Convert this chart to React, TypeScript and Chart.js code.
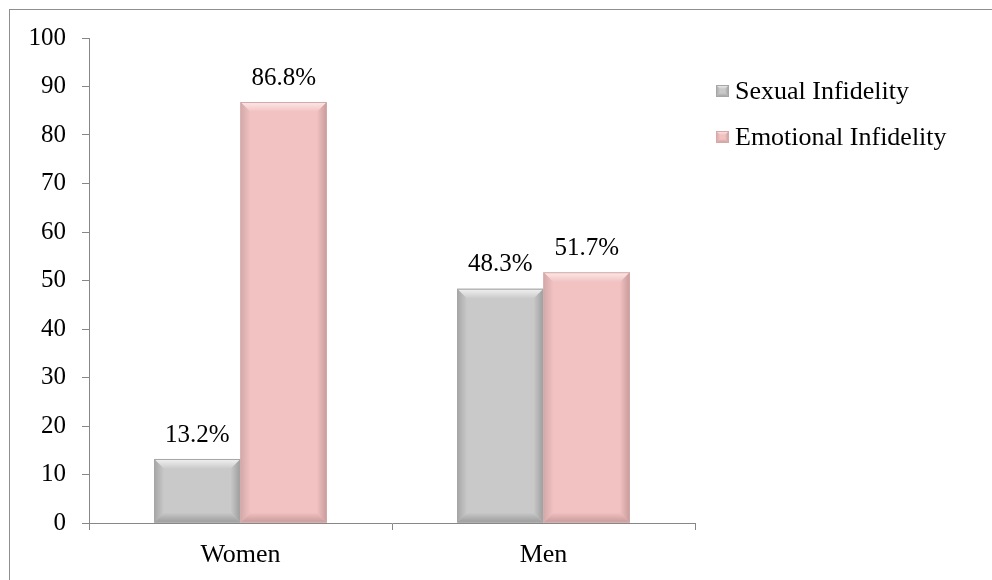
import React, { useEffect, useRef } from "react";
import { Chart, registerables } from "chart.js";

Chart.register(...registerables);

const categories = ["Women", "Men"];
const seriesNames = ["Sexual Infidelity", "Emotional Infidelity"];
const sexualValues = [13.2, 48.3];
const emotionalValues = [86.8, 51.7];
const yMin = 0;
const yMax = 100;
const yStep = 10;

const FONT = '"Liberation Serif", "Times New Roman", serif';
const FONT_SIZE = 25;
const FONT_SIZE_LARGE = 26;
const AXIS_COLOR = "#878787";

const palettes = [
  { base: "#c9c9c9", light: "#f2f2f2", dark: "#9c9c9c", edge: "#a6a6a6" },
  { base: "#f2c1c1", light: "#fde9e9", dark: "#c79a9a", edge: "#d3a9a9" },
];

const framePlugin = {
  id: "frame",
  beforeDraw(chart: any) {
    const ctx = chart.ctx;
    ctx.save();
    ctx.fillStyle = "#ffffff";
    ctx.fillRect(0, 0, chart.width, chart.height);
    ctx.strokeStyle = "#8f8f8f";
    ctx.lineWidth = 1;
    ctx.strokeRect(9.5, 9.5, chart.width + 10, chart.height + 10);
    ctx.restore();
  },
};

function drawBevelBox(ctx: any, left: number, top: number, right: number, bottom: number, pal: any, b: number) {
  const w = right - left;
  const h = bottom - top;
  const bb = Math.min(b, w / 2, h / 2);
  ctx.fillStyle = pal.base;
  ctx.fillRect(left, top, w, h);
  let g = ctx.createLinearGradient(0, top, 0, top + bb);
  g.addColorStop(0, pal.light);
  g.addColorStop(1, pal.base);
  ctx.fillStyle = g;
  ctx.beginPath();
  ctx.moveTo(left, top);
  ctx.lineTo(right, top);
  ctx.lineTo(right - bb, top + bb);
  ctx.lineTo(left + bb, top + bb);
  ctx.closePath();
  ctx.fill();
  g = ctx.createLinearGradient(left, 0, left + bb, 0);
  g.addColorStop(0, pal.edge);
  g.addColorStop(1, pal.base);
  ctx.fillStyle = g;
  ctx.beginPath();
  ctx.moveTo(left, top);
  ctx.lineTo(left + bb, top + bb);
  ctx.lineTo(left + bb, bottom - bb);
  ctx.lineTo(left, bottom);
  ctx.closePath();
  ctx.fill();
  g = ctx.createLinearGradient(right - bb, 0, right, 0);
  g.addColorStop(0, pal.base);
  g.addColorStop(1, pal.dark);
  ctx.fillStyle = g;
  ctx.beginPath();
  ctx.moveTo(right, top);
  ctx.lineTo(right, bottom);
  ctx.lineTo(right - bb, bottom - bb);
  ctx.lineTo(right - bb, top + bb);
  ctx.closePath();
  ctx.fill();
  g = ctx.createLinearGradient(0, bottom - bb, 0, bottom);
  g.addColorStop(0, pal.base);
  g.addColorStop(1, pal.dark);
  ctx.fillStyle = g;
  ctx.beginPath();
  ctx.moveTo(left, bottom);
  ctx.lineTo(right, bottom);
  ctx.lineTo(right - bb, bottom - bb);
  ctx.lineTo(left + bb, bottom - bb);
  ctx.closePath();
  ctx.fill();
  ctx.strokeStyle = pal.edge;
  ctx.lineWidth = 1;
  ctx.strokeRect(left + 0.5, top + 0.5, w - 1, h - 1);
}

const bevelPlugin = {
  id: "bevel",
  afterDatasetsDraw(chart: any) {
    const ctx = chart.ctx;
    ctx.save();
    chart.data.datasets.forEach((ds: any, di: number) => {
      const meta = chart.getDatasetMeta(di);
      meta.data.forEach((el: any, i: number) => {
        const p = el.getProps(["x", "y", "base", "width"], true);
        const left = p.x - p.width / 2;
        const right = p.x + p.width / 2;
        drawBevelBox(ctx, left, p.y, right, p.base, palettes[di], 10);
        ctx.fillStyle = "#000";
        ctx.font = `${FONT_SIZE}px ${FONT}`;
        ctx.textAlign = "center";
        ctx.textBaseline = "middle";
        ctx.fillText(`${Number(ds.data[i]).toFixed(1)}%`, p.x, p.y - 24);
      });
    });
    ctx.restore();
  },
};

const legendPlugin = {
  id: "customLegend",
  afterDraw(chart: any) {
    const ctx = chart.ctx;
    ctx.save();
    const x0 = 716;
    const rows = [91, 137];
    chart.data.datasets.forEach((ds: any, di: number) => {
      const cy = rows[di];
      drawBevelBox(ctx, x0, cy - 6, x0 + 13, cy + 6, palettes[di], 4);
      ctx.fillStyle = "#000";
      ctx.font = `${FONT_SIZE_LARGE}px ${FONT}`;
      ctx.textAlign = "left";
      ctx.textBaseline = "middle";
      ctx.fillText(ds.label, x0 + 19, cy + 1);
    });
    ctx.restore();
  },
};

export default function App() {
  const ref = useRef<HTMLCanvasElement>(null);
  useEffect(() => {
    if (!ref.current) return;
    const chart = new Chart(ref.current, {
      type: "bar",
      data: {
        labels: categories,
        datasets: [
          {
            label: seriesNames[0],
            data: sexualValues,
            backgroundColor: palettes[0].base,
            categoryPercentage: 0.57,
            barPercentage: 1,
          },
          {
            label: seriesNames[1],
            data: emotionalValues,
            backgroundColor: palettes[1].base,
            categoryPercentage: 0.57,
            barPercentage: 1,
          },
        ],
      },
      options: {
        animation: false,
        responsive: false,
        maintainAspectRatio: false,
        layout: { padding: { top: 38, right: 297, bottom: 0, left: 0 } },
        plugins: {
          legend: { display: false },
          tooltip: { enabled: false },
          title: { display: false },
        },
        scales: {
          x: {
            offset: true,
            grid: { offset: true, drawOnChartArea: false, tickLength: 7, color: AXIS_COLOR },
            border: { color: AXIS_COLOR },
            ticks: { color: "#000", font: { family: FONT, size: FONT_SIZE_LARGE }, padding: 10 },
            afterFit: (s: any) => {
              s.height = 57;
            },
          },
          y: {
            min: yMin,
            max: yMax,
            ticks: { stepSize: yStep, color: "#000", font: { family: FONT, size: FONT_SIZE }, padding: 16 },
            grid: { drawOnChartArea: false, tickLength: 7, color: AXIS_COLOR },
            border: { color: AXIS_COLOR },
            afterFit: (s: any) => {
              s.width = 89;
            },
          },
        },
      },
      plugins: [framePlugin, bevelPlugin, legendPlugin],
    });
    return () => chart.destroy();
  }, []);
  return (
    <div style={{ position: "absolute", left: 0, top: 0, width: 992, height: 580 }}>
      <canvas ref={ref} width={992} height={580} style={{ display: "block" }} />
    </div>
  );
}
